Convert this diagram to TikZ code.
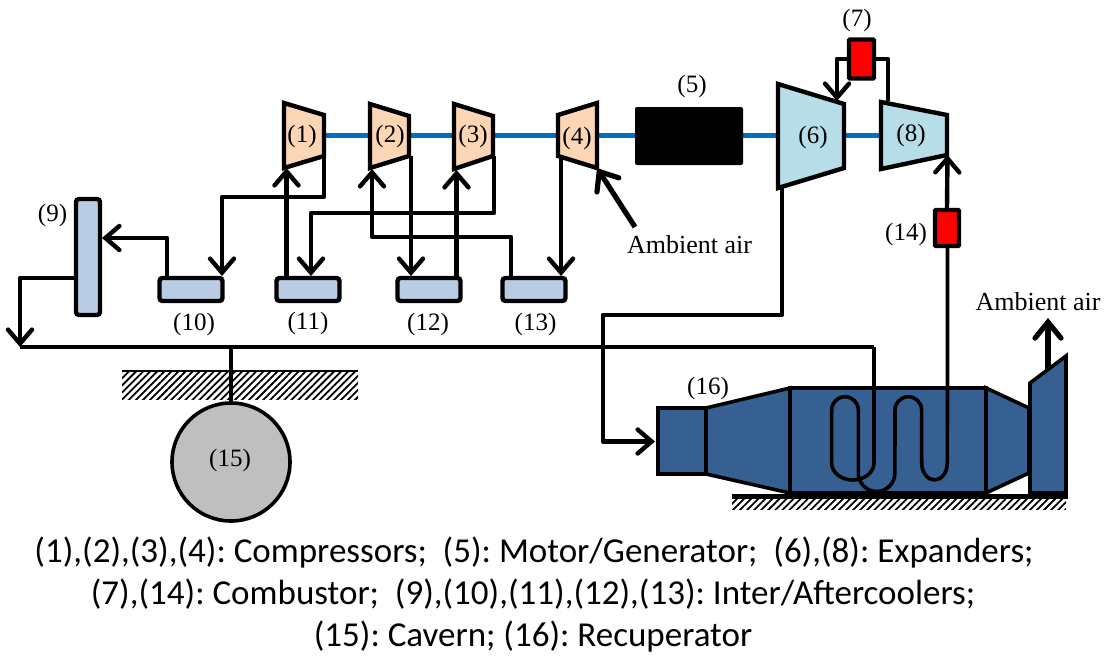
\documentclass[tikz,border=0pt]{standalone}
\usepackage{fontspec}
\setmainfont{Liberation Serif}
\newfontfamily\legendfont{Carlito}
\usetikzlibrary{arrows.meta,patterns.meta}
\definecolor{shaftblue}{RGB}{0,112,192}
\definecolor{compfill}{RGB}{252,213,181}
\definecolor{expfill}{RGB}{183,222,232}
\definecolor{coolfill}{RGB}{184,204,228}
\definecolor{recupblue}{RGB}{55,96,146}
\definecolor{cavgray}{RGB}{191,191,191}
\tikzset{
  lbl/.style={font=\fontsize{25}{28}\selectfont, inner sep=0pt},
  airlbl/.style={font=\fontsize{26}{28}\selectfont, inner sep=0pt},
  legend/.style={font=\legendfont\fontsize{35}{38}\selectfont, inner sep=0pt},
  casing/.style={line width=4.4pt, line join=miter, draw=black},
  cooler/.style={draw=black, line width=4.4pt, fill=coolfill, rounded corners=3pt, inner sep=0pt, minimum width=63pt, minimum height=23pt},
  burner/.style={draw=black, line width=4.4pt, fill=red, rounded corners=1pt, inner sep=0pt},
  pipe/.style={line width=4.4pt, line join=round, -},
  flow/.style={pipe, -{Straight Barb[length=14pt,width=24pt,line cap=round]}},
  bigflow/.style={pipe, line width=5.2pt, -{Straight Barb[length=16pt,width=26pt,line cap=round]}},
  shaft/.style={line width=5pt, shaftblue},
  recup/.style={draw=black, line width=3.6pt, fill=recupblue, line join=miter},
  hatch/.style={pattern={Lines[angle=45,distance=5pt,line width=1.8pt]}}
}

\begin{document}
\begin{tikzpicture}[x=1pt,y=-1pt]
  \useasboundingbox (0,0) rectangle (1104,656);

  % Shaft runs behind all the machines
  \coordinate (shaftL) at (324,135);
  \coordinate (shaftR) at (881,135);
  \draw[shaft] (shaftL) -- (shaftR);

  % Compressors
  \filldraw[casing, fill=compfill] (284,103) -- (324,115) -- (324,156) -- (284,168) -- cycle;
  \filldraw[casing, fill=compfill] (370,104) -- (409,116) -- (409,156) -- (370,168) -- cycle;
  \filldraw[casing, fill=compfill] (454,104) -- (493,116) -- (493,156) -- (454,169) -- cycle;
  \filldraw[casing, fill=compfill] (558,115) -- (597,103) -- (597,168) -- (558,156) -- cycle;

  % Motor and expanders
  \node[fill=black, rounded corners=2pt, inner sep=0pt, minimum width=108pt, minimum height=58pt] (motor) at (689,136) {};
  \filldraw[casing, fill=expfill] (778,84) -- (844,104) -- (844,168) -- (778,188) -- cycle;
  \filldraw[casing, fill=expfill] (881,102) -- (947,115) -- (947,155) -- (881,169) -- cycle;

  % Burners
  \node[burner, minimum width=25pt, minimum height=39pt] (burn7) at (861.5,59) {};
  \node[burner, minimum width=24pt, minimum height=36pt] (burn14) at (947,228) {};

  % Coolers
  \node[cooler, minimum width=24pt, minimum height=116pt] (cool9) at (88,257) {};
  \node[cooler] (cool10) at (191,289.5) {};
  \node[cooler] (cool11) at (308,289.5) {};
  \node[cooler] (cool12) at (429,289.5) {};
  \node[cooler] (cool13) at (534,289.5) {};

  % Cavern and its ground
  \fill[hatch] (122,371) rectangle (358,399);
  \node[circle, draw=black, line width=3.6pt, fill=cavgray, inner sep=0pt, minimum size=118pt] (cavern) at (231,462) {};
  \coordinate (groundL) at (122,371);
  \coordinate (groundR) at (358,371);
  \draw[line width=2.6pt] (groundL) -- (groundR);

  % Recuperator
  \fill[hatch] (732,499) rectangle (1066,509);
  \filldraw[recup] (706,408) -- (790,388) -- (790,493) -- (706,474) -- cycle;
  \filldraw[recup] (986,388) -- (1029,408) -- (1029,473) -- (986,493) -- cycle;
  \filldraw[recup] (658,408) rectangle (706,474);
  \filldraw[recup] (790,388) rectangle (986,493);
  \filldraw[recup] (1030,383) -- (1066,356) -- (1066,493) -- (1030,493) -- cycle;
  \coordinate (baseL) at (732,496.5);
  \coordinate (baseR) at (1068,496.5);
  \draw[line width=5pt] (baseL) -- (baseR);

  % Coil inside the recuperator, from the main line to expander (8)
  \coordinate (coilin) at (874,347);
  \coordinate (coilout) at (947.5,248);
  \draw[pipe, line width=3.6pt] (coilin) -- (874,463) arc (0:180:21.2 and 17) -- (831.7,410)
    arc (180:360:13.3) -- (858.3,473) arc (180:0:18.3 and 18.5) -- (895,410)
    arc (180:360:13.3) -- (921.7,463) arc (180:0:12.8 and 17) -- (947.5,410) -- (coilout);

  % Compressor pipes
  \coordinate (comp1out) at (324,156);
  \coordinate (comp1in) at (286.5,168);
  \coordinate (comp2out) at (411,156);
  \coordinate (comp2in) at (372,169);
  \coordinate (comp3out) at (494,156);
  \coordinate (comp3in) at (456.5,170);
  \coordinate (comp4out) at (561,156);
  \coordinate (comp4in) at (597,168);
  \coordinate (cool10in) at (222,276);
  \coordinate (cool11in) at (311,276);
  \coordinate (cool12in) at (411,276);
  \coordinate (cool13in) at (561,276);

  \draw[flow] (comp1out) -- ++(0,40.7) -| (cool10in);
  \draw[flow] (comp1in |- cool11.north) -- (comp1in);
  \draw[flow] (comp2out) -- (cool12in);
  \draw[flow] (comp3out) -- ++(0,57) -| (cool11in);
  \draw[flow] (comp3in |- cool12.north) -- (comp3in);
  \draw[flow] ([xshift=-23pt]cool13.north) -- ++(0,-39) -| (comp2in);
  \draw[flow] (comp4out) -- (cool13in);

  % Cooler (10) to (9), then to the main line
  \coordinate (cool9in) at (102,238);
  \coordinate (mainL) at (20,347);
  \draw[flow] ([xshift=-24pt]cool10.north) |- (cool9in);
  \draw[flow] ([yshift=-21pt]cool9.west) -| (mainL);
  \draw[pipe] (mainL) -- (coilin);
  \draw[pipe] (mainL -| cavern) -- (cavern.north);

  % Expander pipes
  \coordinate (exp6in) at (837,101);
  \coordinate (exp6out) at (781.7,188);
  \coordinate (exp8in) at (888,101);
  \coordinate (exp8tip) at (947.5,155);
  \coordinate (recupin) at (655,441.5);
  \draw[flow] (burn7.west) -| (exp6in);
  \draw[pipe] (burn7.east) -| (exp8in);
  \draw[flow] (burn14.north) -- (exp8tip);
  \draw[flow] (exp6out) -- (781.7,315) -- (602.7,315) |- (recupin);

  % Ambient air arrows
  \coordinate (airin) at (635,227);
  \coordinate (stackout) at (1048,370);
  \coordinate (stacktip) at (1048,318);
  \draw[bigflow] (airin) -- (comp4in);
  \draw[bigflow] (stackout) -- (stacktip);
  \node[airlbl] (airA) at (689.5,245) {Ambient air};
  \node[airlbl] (airB) at (1038,302) {Ambient air};

  % Labels
  \node[lbl] (lbl1) at (302,136) {(1)};
  \node[lbl] (lbl2) at (390,136) {(2)};
  \node[lbl] (lbl3) at (473,136) {(3)};
  \node[lbl] (lbl4) at (577,138) {(4)};
  \node[lbl] (lbl5) at (692,86) {(5)};
  \node[lbl] (lbl6) at (813,137) {(6)};
  \node[lbl] (lbl7) at (857,20) {(7)};
  \node[lbl] (lbl8) at (911,135) {(8)};
  \node[lbl] (lbl9) at (52.5,215) {(9)};
  \node[lbl] (lbl10) at (194,324) {(10)};
  \node[lbl] (lbl11) at (308,323) {(11)};
  \node[lbl] (lbl12) at (428,324) {(12)};
  \node[lbl] (lbl13) at (535.5,324) {(13)};
  \node[lbl] (lbl14) at (906,234) {(14)};
  \node[lbl] (lbl15) at (230,460) {(15)};
  \node[lbl] (lbl16) at (708,388) {(16)};

  % Legend
  \node[legend] (leg1) at (534,553) {(1),(2),(3),(4):~Compressors;~~(5):~Motor/Generator;~~(6),(8):~Expanders;};
  \node[legend] (leg2) at (533,594) {(7),(14):~Combustor;~~(9),(10),(11),(12),(13):~Inter/Aftercoolers;};
  \node[legend] (leg3) at (533,637) {(15):~Cavern;~(16):~Recuperator};
\end{tikzpicture}
\end{document}
